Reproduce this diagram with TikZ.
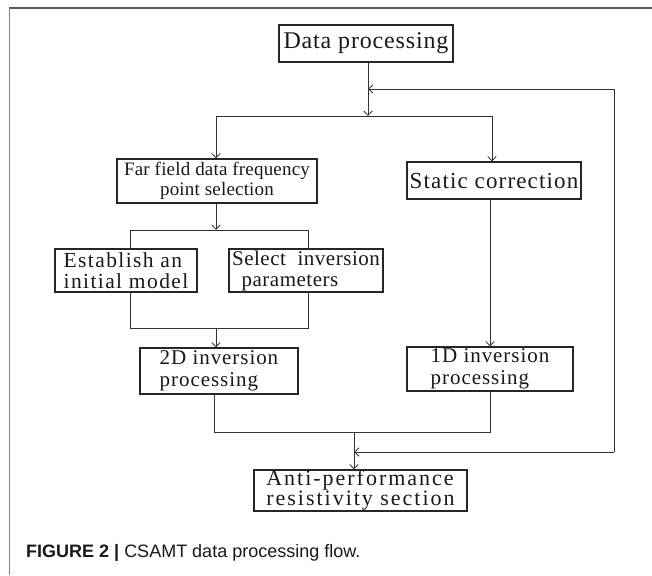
\documentclass[tikz,border=0pt]{standalone}
\usepackage{fontspec}
\setmainfont{Liberation Serif}
\newfontfamily\capfont{Liberation Sans}
\usetikzlibrary{arrows.meta}
\tikzset{
  box/.style={draw=black!85, line width=1.1pt, inner sep=0pt, align=center, text=black!90},
  lbox/.style={box, align=left},
  conn/.style={draw=black!80, line width=0.8pt},
  arr/.style={conn, -{Straight Barb[length=4.5pt,width=8.5pt,line width=0.8pt]}},
}
\newcommand{\tf}[3]{\fontsize{#1}{#2}\selectfont\addfontfeature{LetterSpace=#3}}
\begin{document}
\begin{tikzpicture}[x=1pt,y=-1pt]
\useasboundingbox (0,0) rectangle (652,575);
\fill[white] (0,0) rectangle (652,575);
% frame
\draw[draw=black!65, line width=1.5pt] (9,8) -- (652,8);
\draw[draw=black!50, line width=1pt] (9,8) -- (9,575);

% boxes
\node[box, minimum width=174, minimum height=37, font=\tf{24}{24}{3.5}] (dp) at (366,43.5) {Data processing};
\node[box, minimum width=200, minimum height=44, font=\tf{19}{19.5}{1}] (ff) at (217,181) {Far field data frequency\\point selection};
\node[box, minimum width=174, minimum height=37, font=\tf{23}{23}{5}] (sc) at (494,180.5) {Static correction};
\node[lbox, minimum width=142, minimum height=43, font=\tf{21.5}{21}{6.5}] (est) at (126,270.5) {Establish an\\initial model};
\node[lbox, minimum width=154, minimum height=43, font=\tf{21}{21}{2.5}] (sel) at (306,270.5) {Select\ \ inversion\\\hspace*{0.45em}parameters};
\node[lbox, minimum width=158, minimum height=46, font=\tf{21}{22}{4.5}] (d2) at (219,371) {2D inversion\\processing};
\node[lbox, minimum width=166, minimum height=44, font=\tf{21}{21.5}{4.5}] (d1) at (490,369) {1D inversion\\processing};
\node[lbox, minimum width=213, minimum height=41, font=\tf{22}{20}{9}] (anti) at (360.5,490.5) {Anti-performance\\resistivity section};

% junction coordinates
\coordinate (fbtop) at (368,89);
\coordinate (split) at (368,116);
\coordinate (bl) at (216,116);
\coordinate (br) at (492,116);
\coordinate (fbar) at (216,230);
\coordinate (barl) at (130,230);
\coordinate (barr) at (308,230);
\coordinate (lowl) at (130,328);
\coordinate (lowr) at (308,328);
\coordinate (lowm) at (216,328);
\coordinate (j2) at (214,432);
\coordinate (j1) at (490,432);
\coordinate (jm) at (354,432);
\coordinate (fbbot) at (354,452);
\coordinate (rb) at (614,452);
\coordinate (rt) at (614,89);

% connectors
\draw[arr] (dp.south -| split) -- (split);
\draw[arr] (rb) -- (rt) -- (fbtop);
\draw[conn] (bl) -- (br);
\draw[arr] (bl) -- (bl |- ff.north);
\draw[arr] (br) -- (br |- sc.north);
\draw[arr] (ff.south -| fbar) -- (fbar);
\draw[conn] (barl) -- (barr);
\draw[conn] (barl) -- (barl |- est.north);
\draw[conn] (barr) -- (barr |- sel.north);
\draw[conn] (est.south -| lowl) -- (lowl) -- (lowr) -- (sel.south -| lowr);
\draw[arr] (lowm) -- (lowm |- d2.north);
\draw[arr] (sc.south -| j1) -- (d1.north -| j1);
\draw[conn] (d2.south -| j2) -- (j2) -- (j1) -- (d1.south -| j1);
\draw[arr] (jm) -- (jm |- anti.north);
\draw[arr] (rb) -- (fbbot);

% caption
\node[anchor=base west, inner sep=0pt, text=black!90, font=\capfont\fontsize{18}{18}\selectfont] (cap) at (26,557) {\textbf{FIGURE 2 |} CSAMT data processing flow.};
\end{tikzpicture}
\end{document}
